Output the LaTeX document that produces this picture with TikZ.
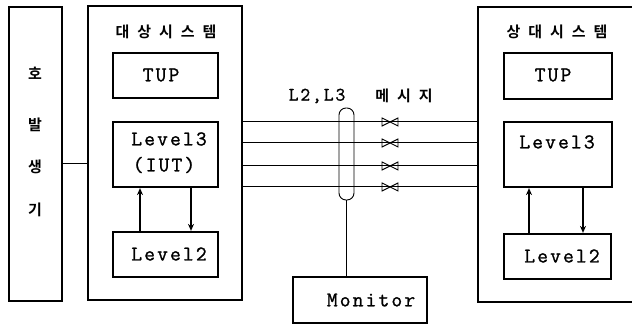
\documentclass[tikz,border=0pt]{standalone}
\usepackage{fontspec}
\newfontfamily\kr{Noto Sans CJK KR}[BoldFont={Noto Sans CJK KR Bold}]
\newfontfamily\lmt{Latin Modern Mono}[LetterSpace=10, FakeBold=1.2]
\usetikzlibrary{arrows.meta}
\newcommand\kgap{\hspace{8pt}}
\tikzset{
  box/.style={draw, line width=2.2pt, inner sep=0pt},
  lat/.style={font=\fontsize{21}{23}\selectfont\lmt, inner sep=0pt},
  han/.style={font=\fontsize{15}{17}\selectfont\kr\bfseries, inner sep=0pt},
  wire/.style={line width=1pt},
  flow/.style={line width=1.5pt, -{Stealth[length=7pt,width=6pt]}},
  valve/.style={line width=0.9pt}
}
\begin{document}
\begin{tikzpicture}[x=1pt,y=-1pt]
\useasboundingbox (0,0) rectangle (632,328);
% boxes
\node[box, minimum width=53pt, minimum height=294pt] (gen) at (35.5,154) {};
\node[box, minimum width=154pt, minimum height=294pt] (tsys) at (165,153) {};
\node[box, minimum width=105pt, minimum height=45pt] (tup1) at (165.5,75.5) {};
\node[box, minimum width=105pt, minimum height=65pt] (l3a) at (165.5,154.5) {};
\node[box, minimum width=105pt, minimum height=45pt] (l2a) at (165.5,254.5) {};
\node[box, minimum width=212pt, minimum height=295pt] (rsys) at (584,154.5) {};
\node[box, minimum width=108pt, minimum height=46pt] (tup2) at (558,76) {};
\node[box, minimum width=108pt, minimum height=65pt] (l3b) at (558,154.5) {};
\node[box, minimum width=107pt, minimum height=45pt] (l2b) at (557.5,256.5) {};
\node[box, minimum width=134pt, minimum height=46pt] (mon) at (360,300) {};
% texts
\node[han] (g1) at (35,73) {호};
\node[han] (g2) at (35,125) {발};
\node[han] (g3) at (35,167) {생};
\node[han] (g4) at (35,210) {기};
\node[han] (t1) at (166,32) {대\kgap 상\kgap 시\kgap 스\kgap 템};
\node[han] (t2) at (557,32) {상\kgap 대\kgap 시\kgap 스\kgap 템};
\node[lat] (x1) at (161,75) {TUP};
\node[lat] (x2) at (553,75) {TUP};
\node[lat] (x3) at (169,139) {Level3};
\node[lat] (x4) at (164,165) {(IUT)};
\node[lat] (x5) at (557,142) {Level3};
\node[lat] (x6) at (169,254) {Level2};
\node[lat] (x7) at (562,256) {Level2};
\node[lat] (x8) at (371,300) {Monitor};
\node[lat, font=\fontsize{19}{21}\selectfont\lmt] (lb1) at (317,96) {L2,L3};
\node[han] (lb2) at (404,96) {메\kgap 시\kgap 지};
% connectors
\draw[wire] (gen.east |- 0,164) -- (tsys.west |- 0,164);
\foreach \yy in {122,143,166,187}{
  \draw[wire] (tsys.east |- 0,\yy) -- (rsys.west |- 0,\yy);
  \draw[valve] (382,\yy-4) -- (398,\yy+4) -- (398,\yy-4) -- (382,\yy+4) -- cycle;
}
\node[draw, line width=0.9pt, rounded corners=7pt, minimum width=15pt, minimum height=92pt, inner sep=0pt] (oval) at (346.5,154) {};
\draw[wire] (oval.south) -- (oval.south |- mon.north);
% arrows
\draw[flow] (l2a.north -| 140,0) -- (l3a.south -| 140,0);
\draw[flow] (l3a.south -| 191,0) -- (l2a.north -| 191,0);
\draw[flow] (l2b.north -| 529,0) -- (l3b.south -| 529,0);
\draw[flow] (l3b.south -| 583,0) -- (l2b.north -| 583,0);
\end{tikzpicture}
\end{document}
